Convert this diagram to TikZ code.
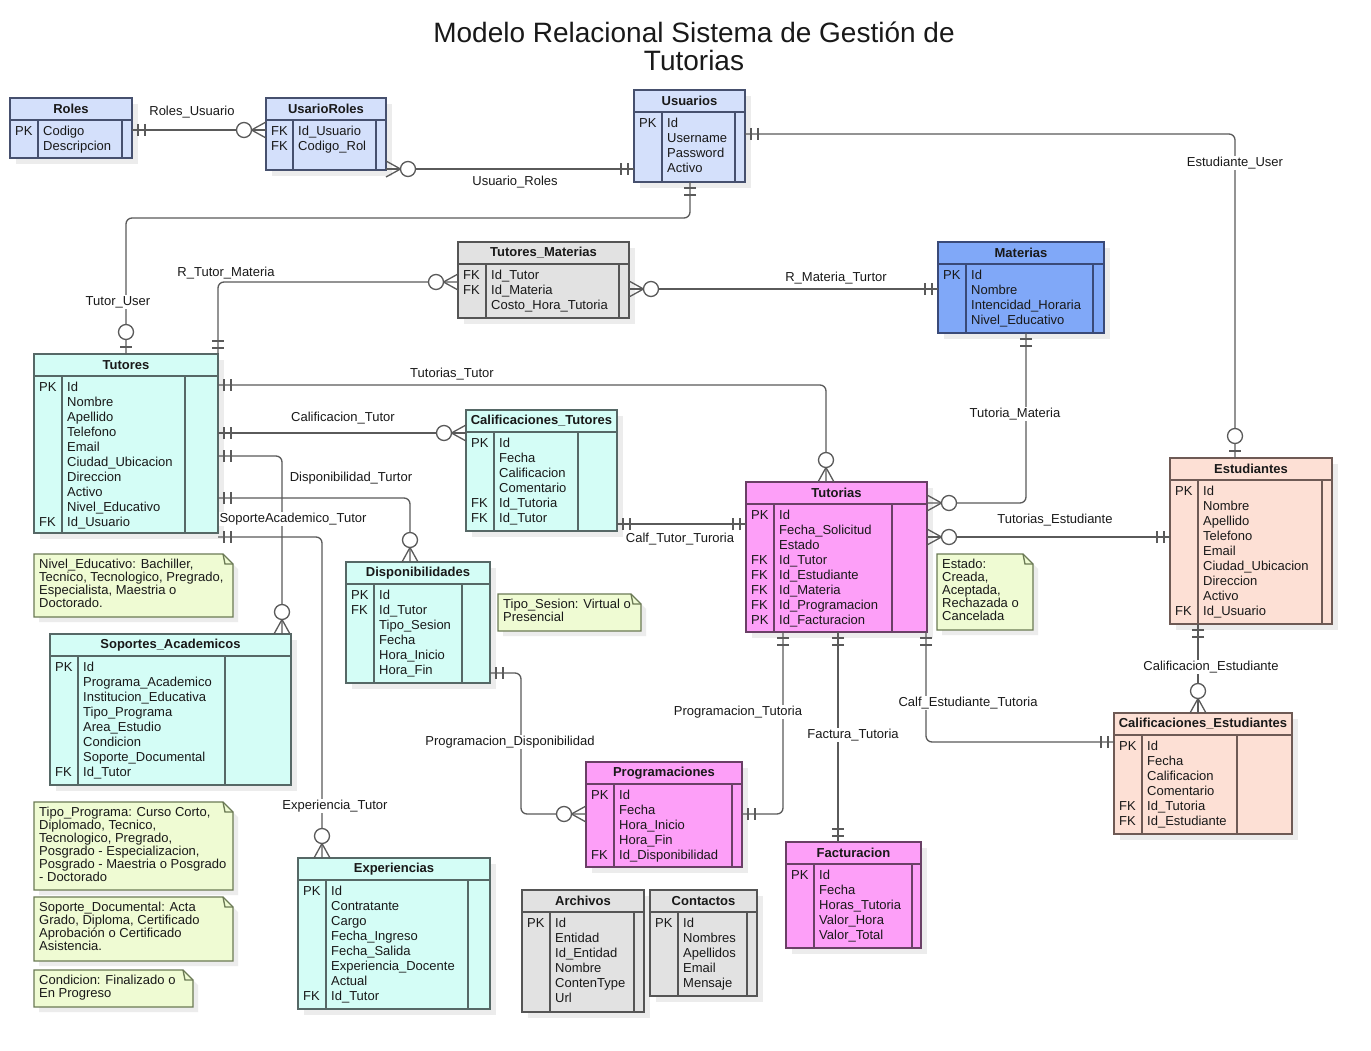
\documentclass[tikz,border=0pt]{standalone}
\usepackage{fontspec}
\setmainfont{Liberation Sans}
\usetikzlibrary{calc}
\definecolor{connc}{HTML}{5A5A5A}
\definecolor{shadowc}{HTML}{ECECEC}
\definecolor{bluefill}{HTML}{D4E0FB}\definecolor{bluedraw}{HTML}{46506E}
\definecolor{matfill}{HTML}{80A8F8}\definecolor{matdraw}{HTML}{3A4A78}
\definecolor{greyfill}{HTML}{E2E2E2}\definecolor{greydraw}{HTML}{555555}
\definecolor{cyanfill}{HTML}{D4FDF6}\definecolor{cyandraw}{HTML}{566866}
\definecolor{magfill}{HTML}{FD9FF8}\definecolor{magdraw}{HTML}{6A4066}
\definecolor{peachfill}{HTML}{FDE0D5}\definecolor{peachdraw}{HTML}{6E5A55}
\definecolor{notefill}{HTML}{EFFBD3}\definecolor{notedraw}{HTML}{6B7A55}
\tikzset{
  conn/.style={draw=connc, line width=1.3pt},
  entbox/.style={line width=1.6pt, inner sep=0pt, outer sep=0pt},
  entedge/.style={line width=1.6pt},
  blueE/.style={fill=bluefill, draw=bluedraw},
  matE/.style={fill=matfill, draw=matdraw},
  greyE/.style={fill=greyfill, draw=greydraw},
  cyanE/.style={fill=cyanfill, draw=cyandraw},
  magE/.style={fill=magfill, draw=magdraw},
  peachE/.style={fill=peachfill, draw=peachdraw},
  enttitle/.style={font=\fontsize{13}{15}\selectfont\bfseries, text=black!90, inner sep=0pt},
  rowtext/.style={font=\fontsize{13}{15}\selectfont, text=black!90, inner sep=0pt},
  notest/.style={fill=notefill, draw=notedraw, line width=1.3pt},
  notetext/.style={font=\fontsize{13}{13}\selectfont, align=left, inner sep=0pt, text=black!90},
  rlabel/.style={font=\fontsize{13}{15}\selectfont, fill=white, inner sep=1pt, text=black!90},
  pics/mandone/.style={code={\draw[conn] (6,-6)--(6,6) (13,-6)--(13,6);}},
  pics/manyopt/.style={code={\draw[conn] (0,-8)--(14.5,0)--(0,8); \draw[conn,fill=white] (22,0) circle[radius=7.5];}},
  pics/oneopt/.style={code={\draw[conn] (7,-6)--(7,6); \draw[conn,fill=white] (22,0) circle[radius=7.5];}},
}
% #1 name #2 style #3 x #4 y #5 w #6 h #7 key width #8 right width #9 title
\newcommand\mkentity[9]{%
  \fill[shadowc] (#3+6,#4+6) rectangle (#3+#5+6,#4+#6+6);
  \node[entbox,#2,draw,anchor=north west,minimum width=#5pt,minimum height=#6pt] (#1) at (#3,#4) {};
  \draw[entedge,#2,fill=none] ([yshift=-22pt]#1.north west) -- ([yshift=-22pt]#1.north east);
  \draw[entedge,#2,fill=none] ([xshift=#7pt,yshift=-22pt]#1.north west) -- ([xshift=#7pt]#1.south west);
  \draw[entedge,#2,fill=none] ([xshift=-#8pt,yshift=-22pt]#1.north east) -- ([xshift=-#8pt]#1.south east);
  \node[enttitle] (#1-t) at ([yshift=-11pt]#1.north) {#9};
}
% #1 name #2 key width #3 list key/attr
\newcommand\mkrows[3]{%
  \foreach \k/\a [count=\i] in {#3}{
    \node[rowtext,anchor=base west] (#1-k\i) at ($(#1.north west)+(5,37.5+15*\i-15)$) {\k};
    \node[rowtext,anchor=base west] (#1-a\i) at ($(#1.north west)+(#2+5,37.5+15*\i-15)$) {\a};
  }}
% #1 name #2 x #3 y #4 w #5 h #6 text
\newcommand\mknote[6]{%
  \fill[shadowc] (#2+5,#3+5) -- (#2+#4-5,#3+5) -- (#2+#4+5,#3+15) -- (#2+#4+5,#3+#5+5) -- (#2+5,#3+#5+5) -- cycle;
  \filldraw[notest] (#2,#3) -- (#2+#4-10,#3) -- (#2+#4,#3+10) -- (#2+#4,#3+#5) -- (#2,#3+#5) -- cycle;
  \draw[notest,fill=none] (#2+#4-10,#3) -- (#2+#4-8,#3+10) -- (#2+#4,#3+10);
  \node[notetext,anchor=north west] (#1) at (#2+5,#3+5.3) {#6};
}
\begin{document}
\begin{tikzpicture}[x=1pt,y=-1pt]
\useasboundingbox[fill=white] (0,0) rectangle (1371,1051);

\node[font=\fontsize{28}{28}\selectfont, align=center, inner sep=0pt, text=black!90] (title) at (694,46) {Modelo Relacional Sistema de Gestión de\\Tutorias};

% entities
\mkentity{roles}{blueE}{10}{98}{122}{60}{28}{10}{Roles}
\mkrows{roles}{28}{PK/Codigo,/Descripcion}
\mkentity{usarioroles}{blueE}{266}{98}{120}{72}{27}{10}{UsarioRoles}
\mkrows{usarioroles}{27}{FK/Id\_Usuario,FK/Codigo\_Rol}
\mkentity{usuarios}{blueE}{634}{90}{111}{92}{28}{10}{Usuarios}
\mkrows{usuarios}{28}{PK/Id,/Username,/Password,/Activo}
\mkentity{tutmat}{greyE}{458}{242}{171}{76}{28}{10}{Tutores\_Materias}
\mkrows{tutmat}{28}{FK/Id\_Tutor,FK/Id\_Materia,/Costo\_Hora\_Tutoria}
\mkentity{materias}{matE}{938}{242}{166}{91}{28}{11}{Materias}
\mkrows{materias}{28}{PK/Id,/Nombre,/Intencidad\_Horaria,/Nivel\_Educativo}
\mkentity{tutores}{cyanE}{34}{354}{184}{179}{28}{33}{Tutores}
\mkrows{tutores}{28}{PK/Id,/Nombre,/Apellido,/Telefono,/Email,/Ciudad\_Ubicacion,/Direccion,/Activo,/Nivel\_Educativo,FK/Id\_Usuario}
\mkentity{caltut}{cyanE}{466}{410}{151}{121}{28}{39}{Calificaciones\_Tutores}
\mkrows{caltut}{28}{PK/Id,/Fecha,/Calificacion,/Comentario,FK/Id\_Tutoria,FK/Id\_Tutor}
\mkentity{tutorias}{magE}{746}{482}{181}{150}{28}{35}{Tutorias}
\mkrows{tutorias}{28}{PK/Id,/Fecha\_Solicitud,/Estado,FK/Id\_Tutor,FK/Id\_Estudiante,FK/Id\_Materia,FK/Id\_Programacion,PK/Id\_Facturacion}
\mkentity{estud}{peachE}{1170}{458}{162}{166}{28}{10}{Estudiantes}
\mkrows{estud}{28}{PK/Id,/Nombre,/Apellido,/Telefono,/Email,/Ciudad\_Ubicacion,/Direccion,/Activo,FK/Id\_Usuario}
\mkentity{dispo}{cyanE}{346}{562}{144}{121}{28}{28}{Disponibilidades}
\mkrows{dispo}{28}{PK/Id,FK/Id\_Tutor,/Tipo\_Sesion,/Fecha,/Hora\_Inicio,/Hora\_Fin}
\mkentity{soportes}{cyanE}{50}{634}{241}{151}{28}{66}{Soportes\_Academicos}
\mkrows{soportes}{28}{PK/Id,/Programa\_Academico,/Institucion\_Educativa,/Tipo\_Programa,/Area\_Estudio,/Condicion,/Soporte\_Documental,FK/Id\_Tutor}
\mkentity{progr}{magE}{586}{762}{156}{105}{28}{10}{Programaciones}
\mkrows{progr}{28}{PK/Id,/Fecha,/Hora\_Inicio,/Hora\_Fin,FK/Id\_Disponibilidad}
\mkentity{factur}{magE}{786}{842}{135}{106}{28}{9}{Facturacion}
\mkrows{factur}{28}{PK/Id,/Fecha,/Horas\_Tutoria,/Valor\_Hora,/Valor\_Total}
\mkentity{calest}{peachE}{1114}{713}{178}{121}{28}{55}{Calificaciones\_Estudiantes}
\mkrows{calest}{28}{PK/Id,/Fecha,/Calificacion,/Comentario,FK/Id\_Tutoria,FK/Id\_Estudiante}
\mkentity{exper}{cyanE}{298}{858}{192}{151}{28}{22}{Experiencias}
\mkrows{exper}{28}{PK/Id,/Contratante,/Cargo,/Fecha\_Ingreso,/Fecha\_Salida,/Experiencia\_Docente,/Actual,FK/Id\_Tutor}
\mkentity{archivos}{greyE}{522}{890}{122}{122}{28}{10}{Archivos}
\mkrows{archivos}{28}{PK/Id,/Entidad,/Id\_Entidad,/Nombre,/ContenType,/Url}
\mkentity{contactos}{greyE}{650}{890}{107}{106}{28}{10}{Contactos}
\mkrows{contactos}{28}{PK/Id,/Nombres,/Apellidos,/Email,/Mensaje}

% notes
\mknote{n1}{34}{554}{199}{63}{Nivel\_Educativo: Bachiller,\\Tecnico, Tecnologico, Pregrado,\\Especialista, Maestria o\\Doctorado.}
\mknote{n2}{498}{594}{143}{37}{Tipo\_Sesion: Virtual o\\Presencial}
\mknote{n3}{937}{554}{96}{76}{Estado:\\Creada,\\Aceptada,\\Rechazada o\\Cancelada}
\mknote{n4}{34}{802}{199}{88}{Tipo\_Programa: Curso Corto,\\Diplomado, Tecnico,\\Tecnologico, Pregrado,\\Posgrado - Especializacion,\\Posgrado - Maestria o Posgrado\\- Doctorado}
\mknote{n5}{34}{897}{199}{64}{Soporte\_Documental: Acta\\Grado, Diploma, Certificado\\Aprobación o Certificado\\Asistencia.}
\mknote{n6}{34}{970}{159}{37}{Condicion: Finalizado o\\En Progreso}

% connector end points
\coordinate (r1a) at ([yshift=-32pt]roles.north east);
\coordinate (r1b) at (r1a -| usarioroles.west);
\coordinate (ur1) at ([yshift=1pt]usarioroles.south east);
\coordinate (ur2) at (ur1 -| usuarios.west);
\coordinate (eu1) at ([yshift=-44pt]usuarios.north east);
\coordinate (eu2) at ([xshift=65pt]estud.north west);
\coordinate (tu1) at ([xshift=56pt]usuarios.south west);
\coordinate (tu2) at ([xshift=92pt]tutores.north west);
\coordinate (rt1) at (tutores.north east);
\coordinate (rt2) at ([yshift=-40pt]tutmat.north west);
\coordinate (rm1) at ([yshift=-47pt]tutmat.north east);
\coordinate (rm2) at (rm1 -| materias.west);
\coordinate (tt1) at ([yshift=-31pt]tutores.north east);
\coordinate (tt2) at ([xshift=80pt]tutorias.north west);
\coordinate (ct1) at ([yshift=-79pt]tutores.north east);
\coordinate (ct2) at (ct1 -| caltut.west);
\coordinate (sa1) at ([yshift=-102pt]tutores.north east);
\coordinate (sa2) at ([xshift=232pt]soportes.north west);
\coordinate (dt1) at ([yshift=-144pt]tutores.north east);
\coordinate (dt2) at ([xshift=64pt]dispo.north west);
\coordinate (et1) at ([yshift=-183pt]tutores.north east);
\coordinate (et2) at ([xshift=24pt]exper.north west);
\coordinate (cf1) at ([yshift=-114pt]caltut.north east);
\coordinate (cf2) at (cf1 -| tutorias.west);
\coordinate (tm1) at ([xshift=88pt]materias.south west);
\coordinate (tm2) at ([yshift=-21pt]tutorias.north east);
\coordinate (te1) at ([yshift=-55pt]tutorias.north east);
\coordinate (te2) at (te1 -| estud.west);
\coordinate (pt1) at ([xshift=37pt]tutorias.south west);
\coordinate (pt2) at ([yshift=-52pt]progr.north east);
\coordinate (ft1) at ([xshift=92pt]tutorias.south west);
\coordinate (ft2) at (ft1 |- factur.north);
\coordinate (ce1) at ([xshift=-1pt]tutorias.south east);
\coordinate (ce2) at ([yshift=-29pt]calest.north west);
\coordinate (cs1) at ([xshift=28pt]estud.south west);
\coordinate (cs2) at (cs1 |- calest.north);
\coordinate (pd1) at ([yshift=-111pt]dispo.north east);
\coordinate (pd2) at ([yshift=-52pt]progr.north west);

% connector lines
\begin{scope}[conn, rounded corners=6pt]
\draw (r1a) -- (r1b);
\draw (ur1) -- (ur2);
\draw (eu1) -| (eu2);
\draw (tu1) -- ++(0,36) -| (tu2);
\draw (rt1) |- (rt2);
\draw (rm1) -- (rm2);
\draw (tt1) -| (tt2);
\draw (ct1) -- (ct2);
\draw (sa1) -| (sa2);
\draw (dt1) -| (dt2);
\draw (et1) -| (et2);
\draw (cf1) -- (cf2);
\draw (tm1) |- (tm2);
\draw (te1) -- (te2);
\draw (pt1) |- (pt2);
\draw (ft1) -- (ft2);
\draw (ce1) |- (ce2);
\draw (cs1) -- (cs2);
\draw (pd1) -- ++(31,0) |- (pd2);
\end{scope}

% markers
\pic at (r1a) {mandone}; \pic[rotate=180] at (r1b) {manyopt};
\pic at (ur1) {manyopt}; \pic[rotate=180] at (ur2) {mandone};
\pic at (eu1) {mandone}; \pic[rotate=90] at (eu2) {oneopt};
\pic[rotate=-90] at (tu1) {mandone}; \pic[rotate=90] at (tu2) {oneopt};
\pic[rotate=90] at (rt1) {mandone}; \pic[rotate=180] at (rt2) {manyopt};
\pic at (rm1) {manyopt}; \pic[rotate=180] at (rm2) {mandone};
\pic at (tt1) {mandone}; \pic[rotate=90] at (tt2) {manyopt};
\pic at (ct1) {mandone}; \pic[rotate=180] at (ct2) {manyopt};
\pic at (sa1) {mandone}; \pic[rotate=90] at (sa2) {manyopt};
\pic at (dt1) {mandone}; \pic[rotate=90] at (dt2) {manyopt};
\pic at (et1) {mandone}; \pic[rotate=90] at (et2) {manyopt};
\pic at (cf1) {mandone}; \pic[rotate=180] at (cf2) {mandone};
\pic[rotate=-90] at (tm1) {mandone}; \pic at (tm2) {manyopt};
\pic at (te1) {manyopt}; \pic[rotate=180] at (te2) {mandone};
\pic[rotate=-90] at (pt1) {mandone}; \pic at (pt2) {mandone};
\pic[rotate=-90] at (ft1) {mandone}; \pic[rotate=90] at (ft2) {mandone};
\pic[rotate=-90] at (ce1) {mandone}; \pic[rotate=180] at (ce2) {mandone};
\pic[rotate=-90] at (cs1) {mandone}; \pic[rotate=90] at (cs2) {manyopt};
\pic at (pd1) {mandone}; \pic[rotate=180] at (pd2) {manyopt};

% relation labels
\node[rlabel] (l1) at (192,112) {Roles\_Usuario};
\node[rlabel] (l2) at (515,182) {Usuario\_Roles};
\node[rlabel] (l3) at (1235,163) {Estudiante\_User};
\node[rlabel] (l4) at (118,302) {Tutor\_User};
\node[rlabel] (l5) at (226,273) {R\_Tutor\_Materia};
\node[rlabel] (l6) at (836,278) {R\_Materia\_Turtor};
\node[rlabel] (l7) at (452,374) {Tutorias\_Tutor};
\node[rlabel] (l8) at (343,418) {Calificacion\_Tutor};
\node[rlabel] (l9) at (351,478) {Disponibilidad\_Turtor};
\node[rlabel] (l10) at (293,519) {SoporteAcademico\_Tutor};
\node[rlabel] (l11) at (680,539) {Calf\_Tutor\_Turoria};
\node[rlabel] (l12) at (1015,414) {Tutoria\_Materia};
\node[rlabel] (l13) at (1055,520) {Tutorias\_Estudiante};
\node[rlabel] (l14) at (738,712) {Programacion\_Tutoria};
\node[rlabel] (l15) at (853,735) {Factura\_Tutoria};
\node[rlabel] (l16) at (968,703) {Calf\_Estudiante\_Tutoria};
\node[rlabel] (l17) at (1211,667) {Calificacion\_Estudiante};
\node[rlabel] (l18) at (510,742) {Programacion\_Disponibilidad};
\node[rlabel] (l19) at (335,806) {Experiencia\_Tutor};
\end{tikzpicture}
\end{document}
